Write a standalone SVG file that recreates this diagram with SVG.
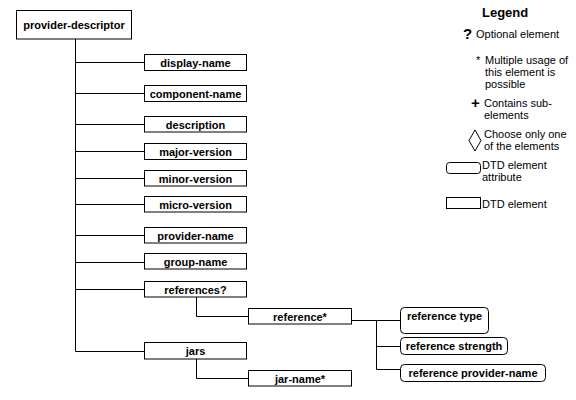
<svg xmlns="http://www.w3.org/2000/svg" width="576" height="400" viewBox="0 0 576 400">
<style>
  .box { fill: #fff; stroke: #000; stroke-width: 1; }
  .rbox { fill: #fff; stroke: #000; stroke-width: 1; }
  .lbl { font-family: "Liberation Sans", Arial, sans-serif; font-size: 11px; font-weight: bold; text-anchor: middle; fill: #000; }
  .leg { font-family: "Liberation Sans", Arial, sans-serif; font-size: 11px; fill: #000; }
  .conn { fill: none; stroke: #000; stroke-width: 1; }
</style>
<rect x="0" y="0" width="576" height="400" fill="#fff"/>

<g id="connectors">
  <path class="conn" d="M75.5 39 V351.5"/>
  <path class="conn" d="M75.5 62.5 H144 M75.5 93.5 H144 M75.5 124.5 H144 M75.5 151.5 H144 M75.5 178.5 H144 M75.5 204.5 H144 M75.5 235.5 H144 M75.5 262.5 H144 M75.5 289.5 H144 M75.5 351.5 H144"/>
  <path class="conn" d="M196.5 297 V316.5 H248"/>
  <path class="conn" d="M196.5 359 V378.5 H248"/>
  <path class="conn" d="M352 320.5 H376.5 V369.5 H400 M376.5 320.5 H400 M376.5 346.5 H400"/>
</g>

<g id="provider-descriptor">
  <rect class="box" x="16.5" y="10.5" width="115" height="28.5"/>
  <text class="lbl" x="74" y="28.5">provider-descriptor</text>
</g>
<g id="display-name">
  <rect class="box" x="144.5" y="54.5" width="102" height="16"/>
  <text class="lbl" x="195.5" y="66.5">display-name</text>
</g>
<g id="component-name">
  <rect class="box" x="144.5" y="85.5" width="102" height="16"/>
  <text class="lbl" x="195.5" y="97.5">component-name</text>
</g>
<g id="description">
  <rect class="box" x="144.5" y="116.5" width="102" height="15.5"/>
  <text class="lbl" x="195.5" y="128.5">description</text>
</g>
<g id="major-version">
  <rect class="box" x="144.5" y="143.5" width="102" height="16"/>
  <text class="lbl" x="195.5" y="155.5">major-version</text>
</g>
<g id="minor-version">
  <rect class="box" x="144.5" y="170.5" width="102" height="15.5"/>
  <text class="lbl" x="195.5" y="182.5">minor-version</text>
</g>
<g id="micro-version">
  <rect class="box" x="144.5" y="196.5" width="102" height="15.5"/>
  <text class="lbl" x="195.5" y="208.5">micro-version</text>
</g>
<g id="provider-name">
  <rect class="box" x="144.5" y="227.5" width="102" height="15.5"/>
  <text class="lbl" x="195.5" y="239.5">provider-name</text>
</g>
<g id="group-name">
  <rect class="box" x="144.5" y="253.5" width="102" height="15.5"/>
  <text class="lbl" x="195.5" y="265.5">group-name</text>
</g>
<g id="references">
  <rect class="box" x="144.5" y="281.5" width="102" height="15.5"/>
  <text class="lbl" x="195.5" y="293.5">references?</text>
</g>
<g id="jars">
  <rect class="box" x="144.5" y="342.5" width="102" height="16.5"/>
  <text class="lbl" x="195.5" y="355">jars</text>
</g>
<g id="reference">
  <rect class="box" x="248.5" y="308.5" width="103" height="15.5"/>
  <text class="lbl" x="300" y="320.5">reference*</text>
</g>
<g id="jar-name">
  <rect class="box" x="248.5" y="370.5" width="103" height="15.5"/>
  <text class="lbl" x="300" y="382.5">jar-name*</text>
</g>
<g id="reference-type">
  <rect class="rbox" x="400.5" y="307.5" width="88" height="26" rx="4"/>
  <text class="lbl" x="444.5" y="319.5">reference type</text>
</g>
<g id="reference-strength">
  <rect class="rbox" x="400.5" y="337.5" width="107" height="17" rx="4"/>
  <text class="lbl" x="454" y="350">reference strength</text>
</g>
<g id="reference-provider-name">
  <rect class="rbox" x="400.5" y="364.5" width="145" height="17" rx="4"/>
  <text class="lbl" x="473" y="376.5">reference provider-name</text>
</g>

<g id="legend">
  <text class="leg" x="482" y="17" style="font-size:13px;font-weight:bold">Legend</text>
  <text class="leg" x="463" y="39" style="font-size:15px;font-weight:bold">?</text>
  <text class="leg" x="476" y="37.5">Optional element</text>
  <text class="leg" x="476" y="63.5">*</text>
  <text class="leg" x="485" y="63.5">Multiple usage of</text>
  <text class="leg" x="485" y="75.5">this element is</text>
  <text class="leg" x="485" y="87.5">possible</text>
  <text class="leg" x="471" y="108" style="font-size:15px;font-weight:bold">+</text>
  <text class="leg" x="484" y="106.5">Contains sub-</text>
  <text class="leg" x="484" y="118.5">elements</text>
  <path class="conn" d="M475 130 L481 140.5 L475 151 L469 140.5 Z"/>
  <text class="leg" x="484" y="138">Choose only one</text>
  <text class="leg" x="484" y="150">of the elements</text>
  <rect class="rbox" x="446.5" y="162.5" width="34" height="11" rx="3"/>
  <text class="leg" x="482" y="168.5">DTD element</text>
  <text class="leg" x="482" y="180.5">attribute</text>
  <rect class="box" x="446.5" y="197.5" width="34" height="11"/>
  <text class="leg" x="482" y="207.5">DTD element</text>
</g>
</svg>
